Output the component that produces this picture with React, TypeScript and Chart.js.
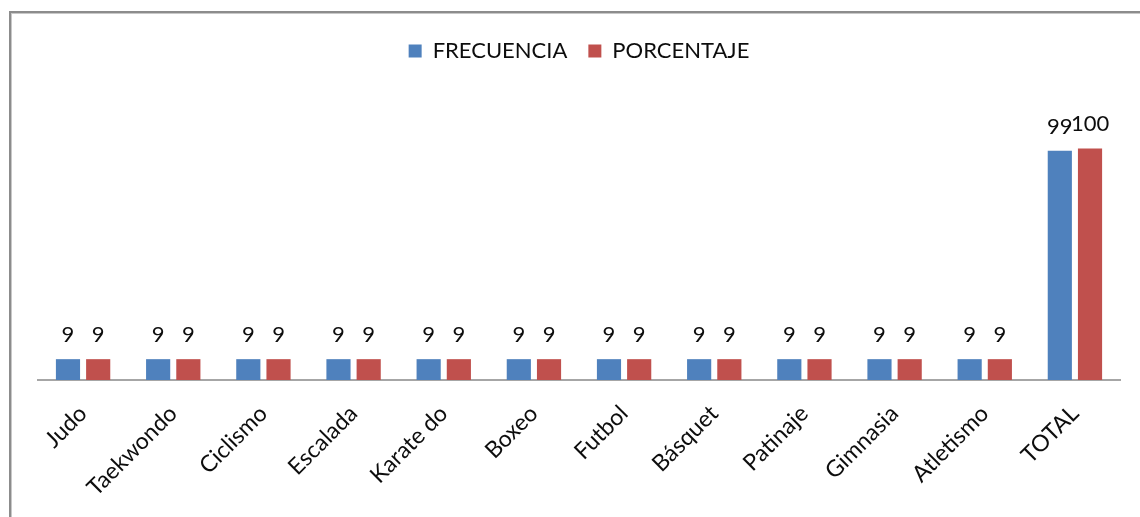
import React, { useEffect, useRef } from "react";
import { Chart, registerables } from "chart.js";

Chart.register(...registerables);

const categories = [
  "Judo",
  "Taekwondo",
  "Ciclismo",
  "Escalada",
  "Karate do",
  "Boxeo",
  "Futbol",
  "Básquet",
  "Patinaje",
  "Gimnasia",
  "Atletismo",
  "TOTAL",
];
const frecuencia = [9, 9, 9, 9, 9, 9, 9, 9, 9, 9, 9, 99];
const porcentaje = [9, 9, 9, 9, 9, 9, 9, 9, 9, 9, 9, 100];

const FONT = "Lato";
const TEXT = "#0d0d0d";
const FSIZE = 22;
const TICK_SIZE = 23;

const dataLabels = {
  id: "dataLabels",
  afterDatasetsDraw(chart: any) {
    const ctx = chart.ctx;
    ctx.save();
    ctx.font = `${FSIZE}px ${FONT}`;
    ctx.fillStyle = TEXT;
    ctx.textAlign = "center";
    ctx.textBaseline = "alphabetic";
    chart.data.datasets.forEach((ds: any, di: number) => {
      const meta = chart.getDatasetMeta(di);
      meta.data.forEach((el: any, i: number) => {
        ctx.fillText(String(ds.data[i]), el.x, el.y - 17);
      });
    });
    ctx.restore();
  },
};

export default function App() {
  const ref = useRef<HTMLCanvasElement>(null);
  useEffect(() => {
    if (!ref.current) return;
    const chart = new Chart(ref.current, {
      type: "bar",
      data: {
        labels: categories,
        datasets: [
          {
            label: "FRECUENCIA",
            data: frecuencia,
            backgroundColor: "#4F81BD",
            categoryPercentage: 0.67,
            barPercentage: 0.8,
          },
          {
            label: "PORCENTAJE",
            data: porcentaje,
            backgroundColor: "#C0504D",
            categoryPercentage: 0.67,
            barPercentage: 0.8,
          },
        ],
      },
      options: {
        responsive: false,
        animation: false,
        layout: { padding: { left: 38, right: 20, top: 19, bottom: 0 } },
        plugins: {
          legend: {
            display: true,
            position: "top",
            labels: {
              boxWidth: 13,
              boxHeight: 13,
              padding: 21,
              color: TEXT,
              font: { family: FONT, size: FSIZE },
            },
          },
          tooltip: { enabled: false },
        },
        scales: {
          x: {
            grid: { display: false, drawTicks: false, tickLength: 0 },
            border: { display: true, color: "#a6a6a6", width: 2 },
            ticks: {
              minRotation: 45,
              maxRotation: 45,
              padding: 20,
              color: TEXT,
              font: { family: FONT, size: TICK_SIZE },
            },
            afterFit: (scale: any) => {
              scale.height = 137;
            },
          },
          y: {
            display: false,
            min: 0,
            max: 133,
          },
        },
      },
      plugins: [dataLabels],
    });
    return () => chart.destroy();
  }, []);

  return (
    <div style={{ position: "fixed", left: 0, top: 0, width: 1140, height: 517, overflow: "hidden", background: "#fff" }}>
      <div
        style={{
          position: "absolute",
          left: 9,
          top: 11,
          width: 1300,
          height: 700,
          borderLeft: "2px solid #8c8c8c",
          borderTop: "2px solid #8c8c8c",
          boxShadow: "inset 1px 1px 0 #c8c8c8",
        }}
      />
      <canvas ref={ref} width={1140} height={517} style={{ position: "absolute", left: 0, top: 0, display: "block" }} />
    </div>
  );
}
